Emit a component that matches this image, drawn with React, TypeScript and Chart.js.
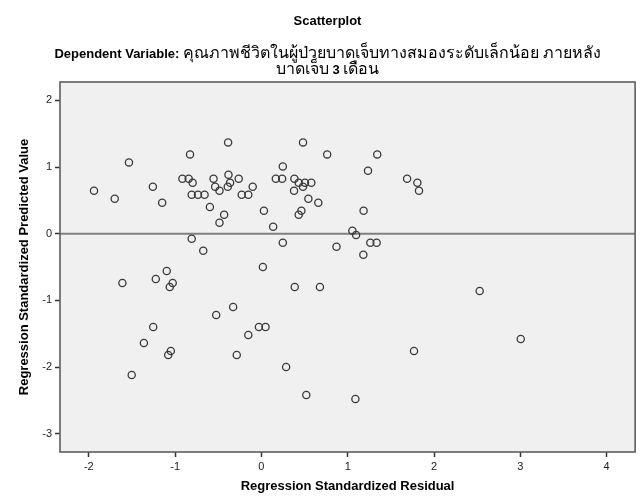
import { useEffect, useRef } from "react";
import { Chart, registerables } from "chart.js";

Chart.register(...registerables);

// Regression Standardized Residual (x)
const residuals = [
  -1.94, -1.7, -1.535, -1.258, -1.15, -0.827, -0.916, -0.843, -0.797, -0.808,
  -0.735, -0.659, -0.597, -0.555, -0.536, -0.486, -0.386, -0.382, -0.363, -0.39,
  -0.263, -0.228, -0.152, -0.101, -0.432, -0.486, 0.029, 0.136, 0.167, -0.808,
  -0.674, 0.482, 0.762, 1.342, 0.248, 1.235, 0.24, 0.382, 0.432, 0.505,
  0.578, 0.482, 0.378, 0.544, 0.659, 1.688, 1.807, 1.826, 0.463, 0.432,
  1.184, 1.054, 1.097, 0.248, 0.87, 1.262, 1.335, 1.181, -1.097, -1.224,
  -1.611, -1.028, -1.062, 0.017, 0.386, -0.328, -0.524, -1.254, -0.029, 0.048,
  -0.152, -1.362, -1.05, -1.08, -0.286, 0.286, -1.503, 0.52, 0.678, 2.529,
  3.005, 1.768, 1.089,
];

// Regression Standardized Predicted Value (y)
const predicted = [
  0.645, 0.525, 1.07, 0.705, 0.465, 1.19, 0.825, 0.825, 0.765, 0.585,
  0.585, 0.585, 0.4, 0.825, 0.705, 0.645, 1.37, 0.885, 0.765, 0.705,
  0.825, 0.585, 0.585, 0.705, 0.285, 0.165, 0.345, 0.105, 0.825, -0.075,
  -0.255, 1.37, 1.19, 1.19, 1.01, 0.945, 0.825, 0.825, 0.765, 0.765,
  0.765, 0.705, 0.645, 0.525, 0.465, 0.825, 0.765, 0.645, 0.345, 0.285,
  0.345, 0.045, -0.02, -0.135, -0.195, -0.135, -0.135, -0.315, -0.56, -0.68,
  -0.74, -0.74, -0.8, -0.5, -0.8, -1.1, -1.22, -1.4, -1.4, -1.4,
  -1.52, -1.64, -1.76, -1.82, -1.82, -2.0, -2.12, -2.42, -0.8, -0.86,
  -1.58, -1.76, -2.48,
];

const xAxisRange = [-2.334, 4.33];
const yAxisRange = [-3.274, 2.276];
const referenceValue = 0;

const titleText = "Scatterplot";
const subtitleLines = [
  "Dependent Variable: คุณภาพชีวิตในผู้ป่วยบาดเจ็บทางสมองระดับเล็กน้อย ภายหลัง",
  "บาดเจ็บ 3 เดือน",
];
const xAxisTitle = "Regression Standardized Residual";
const yAxisTitle = "Regression Standardized Predicted Value";

const FONT = "'Liberation Sans', Arial, Helvetica, sans-serif";
const LATIN_SUB_FONT = `bold 13px ${FONT}`;
const THAI_SUB_FONT = `normal 16px ${FONT}`;
const SUB_BASELINES = [57.5, 74];

const framePlugin = {
  id: "frame",
  beforeDraw(chart: any) {
    const { ctx, chartArea } = chart;
    const { left, top, width, height } = chartArea;
    ctx.save();
    ctx.fillStyle = "#f0f0f0";
    ctx.fillRect(left, top, width, height);
    ctx.restore();
  },
  afterDraw(chart: any) {
    const { ctx, chartArea } = chart;
    const { left, top, width, height } = chartArea;
    ctx.save();
    ctx.strokeStyle = "#5e5e5e";
    ctx.lineWidth = 1.6;
    ctx.strokeRect(left, top, width, height);
    ctx.restore();
  },
};

// Subtitle with mixed runs: Latin/digits bold, Thai regular (as in the SPSS output)
const subtitlePlugin = {
  id: "mixedSubtitle",
  afterDraw(chart: any) {
    const { ctx } = chart;
    const tb = chart.titleBlock;
    const cx = tb ? (tb.left + tb.right) / 2 : chart.width / 2;
    ctx.save();
    ctx.fillStyle = "#000";
    ctx.textBaseline = "alphabetic";
    ctx.textAlign = "left";
    subtitleLines.forEach((line, li) => {
      const parts = line.split(/([\u0E00-\u0E7F]+)/).filter((p) => p.length > 0);
      const runs = parts.map((p) => {
        const thai = /[\u0E00-\u0E7F]/.test(p);
        const font = thai ? THAI_SUB_FONT : LATIN_SUB_FONT;
        ctx.font = font;
        return { text: p, font, w: ctx.measureText(p).width };
      });
      const total = runs.reduce((s, r) => s + r.w, 0);
      let x = cx - total / 2;
      runs.forEach((r) => {
        ctx.font = r.font;
        ctx.fillText(r.text, x, SUB_BASELINES[li]);
        x += r.w;
      });
    });
    ctx.restore();
  },
};

export default function App() {
  const canvasRef = useRef<HTMLCanvasElement | null>(null);

  useEffect(() => {
    if (!canvasRef.current) return;
    const chart = new Chart(canvasRef.current, {
      type: "scatter",
      data: {
        datasets: [
          {
            type: "line",
            data: [
              { x: xAxisRange[0], y: referenceValue },
              { x: xAxisRange[1], y: referenceValue },
            ],
            borderColor: "#808080",
            borderWidth: 2,
            pointRadius: 0,
            pointHoverRadius: 0,
            fill: false,
            order: 2,
          } as any,
          {
            data: residuals.map((x, i) => ({ x, y: predicted[i] })),
            showLine: false,
            pointStyle: "circle",
            pointRadius: 3.6,
            pointHoverRadius: 3.6,
            pointBorderWidth: 1.3,
            pointBorderColor: "#3a3a3a",
            pointBackgroundColor: "rgba(0,0,0,0)",
            order: 1,
          },
        ],
      },
      options: {
        responsive: false,
        maintainAspectRatio: false,
        animation: false,
        devicePixelRatio: 1,
        layout: { padding: { left: 17, right: 2, top: 0, bottom: 0 } },
        plugins: {
          legend: { display: false },
          tooltip: { enabled: false },
          title: {
            display: true,
            text: titleText,
            color: "#000",
            font: { family: FONT, size: 13, weight: "bold", lineHeight: 1.2 },
            padding: { top: 14, bottom: 52.4 },
          },
          subtitle: { display: false },
        },
        scales: {
          x: {
            type: "linear",
            min: xAxisRange[0],
            max: xAxisRange[1],
            afterFit: (scale: any) => {
              scale.height = 47;
            },
            ticks: {
              stepSize: 1,
              includeBounds: false,
              color: "#222",
              padding: 3,
              font: { family: FONT, size: 11 },
            },
            grid: {
              drawOnChartArea: false,
              drawTicks: true,
              tickLength: 5,
              tickColor: "#333",
              tickWidth: 1.5,
            },
            border: { display: false },
            title: {
              display: true,
              text: xAxisTitle,
              color: "#000",
              font: { family: FONT, size: 13, weight: "bold", lineHeight: 1.2 },
              padding: { top: 0, bottom: 5 },
            },
          },
          y: {
            type: "linear",
            min: yAxisRange[0],
            max: yAxisRange[1],
            afterFit: (scale: any) => {
              scale.width = 43;
            },
            ticks: {
              stepSize: 1,
              includeBounds: false,
              color: "#222",
              padding: 3,
              font: { family: FONT, size: 11 },
            },
            grid: {
              drawOnChartArea: false,
              drawTicks: true,
              tickLength: 5,
              tickColor: "#333",
              tickWidth: 1.5,
            },
            border: { display: false },
            title: {
              display: true,
              text: yAxisTitle,
              color: "#000",
              font: { family: FONT, size: 13, weight: "bold", lineHeight: 1.2 },
              padding: { top: 0, bottom: 0 },
            },
          },
        },
      },
      plugins: [framePlugin, subtitlePlugin],
    });
    return () => chart.destroy();
  }, []);

  return (
    <div style={{ position: "fixed", left: 0, top: 0, width: 640, height: 499, background: "#fff" }}>
      <canvas ref={canvasRef} width={640} height={499} style={{ display: "block", width: 640, height: 499 }} />
    </div>
  );
}
